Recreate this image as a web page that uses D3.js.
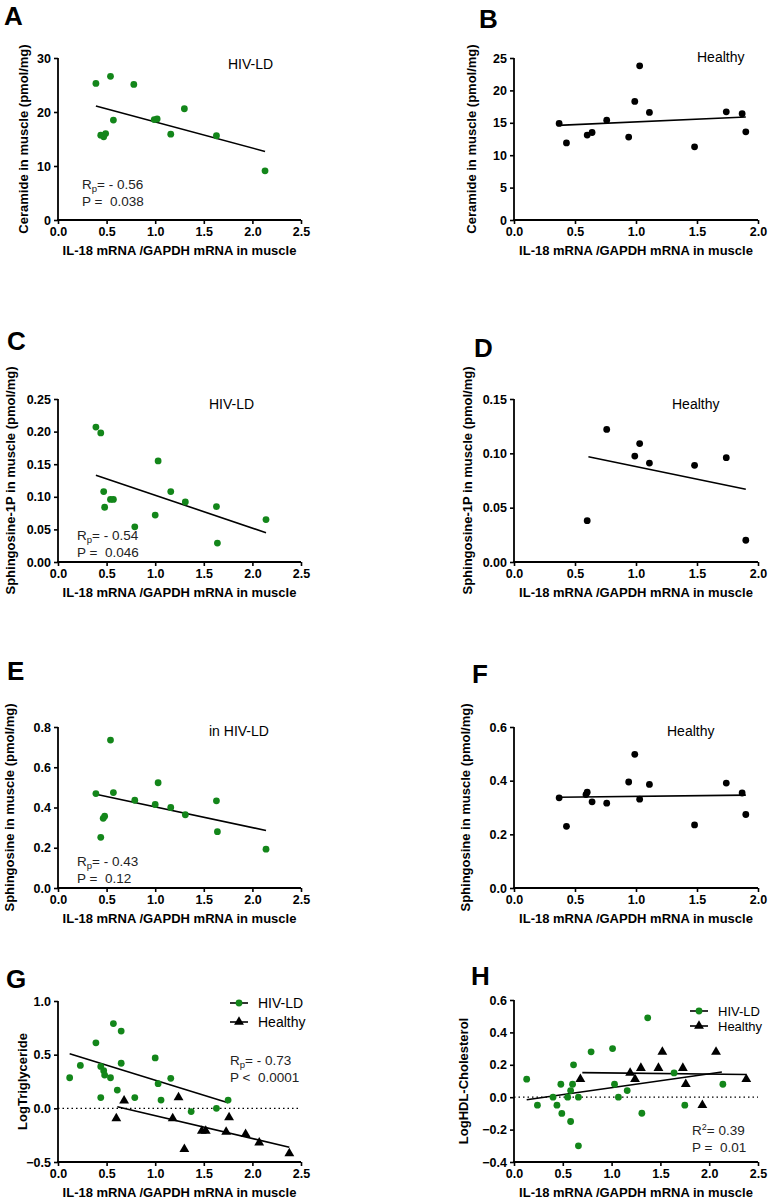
<!DOCTYPE html>
<html><head><meta charset="utf-8">
<script src="https://cdn.jsdelivr.net/npm/d3@7"></script>
<style>body{margin:0;background:#fff}svg{display:block}text{font-family:"Liberation Sans",Arial,sans-serif}</style>
</head><body>
<svg id="chart" width="768" height="1200"></svg>
<script>
// ---------- DATA ----------
const xTicksLong = [0, 0.5, 1.0, 1.5, 2.0, 2.5];
const xTicksShort = [0, 0.5, 1.0, 1.5, 2.0];

// A: Ceramide, HIV-LD
const aX = [0.39, 0.54, 0.78, 0.57, 0.44, 0.47, 0.49, 0.99, 1.02, 1.30, 1.16, 1.63, 2.13];
const aY = [25.3, 26.6, 25.1, 18.5, 15.7, 15.4, 16.0, 18.6, 18.7, 20.6, 15.9, 15.6, 9.1];
const aFit = [[0.39, 21.1], [2.13, 12.7]];
const aTicks = [0, 10, 20, 30];

// B: Ceramide, Healthy
const bX = [0.37, 0.43, 0.60, 0.64, 0.76, 0.94, 0.99, 1.03, 1.11, 1.48, 1.74, 1.87, 1.90];
const bY = [14.9, 11.9, 13.1, 13.5, 15.4, 12.8, 18.3, 23.8, 16.6, 11.3, 16.7, 16.4, 13.6];
const bFit = [[0.36, 14.6], [1.90, 15.9]];
const bTicks = [0, 5, 10, 15, 20, 25];

// C: Sphingosine-1P, HIV-LD
const cX = [0.39, 0.44, 0.47, 0.48, 0.54, 0.57, 0.79, 1.00, 1.03, 1.16, 1.31, 1.63, 1.64, 2.14];
const cY = [0.207, 0.198, 0.108, 0.084, 0.096, 0.096, 0.054, 0.072, 0.155, 0.108, 0.092, 0.085, 0.029, 0.065];
const cFit = [[0.39, 0.133], [2.14, 0.045]];
const cTicks = [0, 0.05, 0.10, 0.15, 0.20, 0.25];

// D: Sphingosine-1P, Healthy
const dX = [0.60, 0.76, 0.99, 1.03, 1.11, 1.48, 1.74, 1.90];
const dY = [0.038, 0.122, 0.0975, 0.109, 0.091, 0.089, 0.096, 0.020];
const dFit = [[0.61, 0.0968], [1.90, 0.067]];
const dTicks = [0, 0.05, 0.10, 0.15];

// E: Sphingosine, HIV-LD
const eX = [0.39, 0.44, 0.465, 0.48, 0.57, 0.54, 0.79, 1.00, 1.03, 1.16, 1.31, 1.63, 1.64, 2.14];
const eY = [0.469, 0.252, 0.346, 0.357, 0.474, 0.735, 0.436, 0.415, 0.523, 0.400, 0.364, 0.433, 0.280, 0.193];
const eFit = [[0.39, 0.466], [2.14, 0.286]];
const eTicks = [0, 0.2, 0.4, 0.6, 0.8];

// F: Sphingosine, Healthy
const fX = [0.37, 0.43, 0.59, 0.60, 0.64, 0.76, 0.94, 0.99, 1.03, 1.11, 1.48, 1.74, 1.87, 1.90];
const fY = [0.336, 0.230, 0.348, 0.357, 0.321, 0.316, 0.395, 0.498, 0.331, 0.386, 0.235, 0.391, 0.354, 0.274];
const fFit = [[0.37, 0.338], [1.90, 0.346]];
const fTicks = [0, 0.2, 0.4, 0.6];

// G: LogTriglyceride
const gHivX = [0.12, 0.23, 0.39, 0.44, 0.44, 0.47, 0.48, 0.54, 0.57, 0.61, 0.65, 0.65, 0.79, 1.00, 1.03, 1.06, 1.16, 1.37, 1.63, 1.75];
const gHivY = [0.285, 0.40, 0.61, 0.39, 0.10, 0.35, 0.31, 0.285, 0.79, 0.17, 0.72, 0.42, 0.10, 0.47, 0.23, 0.077, 0.28, -0.03, 0.0, 0.077];
const gHeaX = [0.60, 0.68, 1.24, 1.18, 1.30, 1.48, 1.52, 1.73, 1.76, 1.93, 2.07, 2.38];
const gHeaY = [-0.093, 0.071, 0.102, -0.093, -0.38, -0.21, -0.21, -0.22, -0.084, -0.24, -0.32, -0.42];
const gHivFit = [[0.12, 0.508], [1.75, 0.053]];
const gHeaFit = [[0.61, 0.015], [2.38, -0.362]];
const gTicks = [-0.5, 0.0, 0.5, 1.0];

// H: LogHDL-Cholesterol
const hHivX = [0.13, 0.24, 0.40, 0.44, 0.48, 0.49, 0.55, 0.58, 0.58, 0.60, 0.61, 0.66, 0.66, 0.79, 1.01, 1.03, 1.07, 1.16, 1.31, 1.37, 1.64, 1.75, 2.14];
const hHivY = [0.111, -0.049, 0.0, -0.049, 0.08, -0.10, 0.0, 0.041, -0.15, 0.08, 0.20, 0.0, -0.30, 0.28, 0.30, 0.08, 0.0, 0.041, -0.099, 0.49, 0.15, -0.049, 0.08];
const hHeaX = [0.68, 1.19, 1.24, 1.30, 1.48, 1.52, 1.73, 1.76, 1.93, 2.07, 2.38];
const hHeaY = [0.111, 0.15, 0.111, 0.18, 0.18, 0.28, 0.18, 0.08, -0.049, 0.28, 0.111];
const hHivFit = [[0.13, -0.016], [2.13, 0.156]];
const hHeaFit = [[0.70, 0.152], [2.38, 0.140]];
const hTicks = [-0.4, -0.2, 0.0, 0.2, 0.4, 0.6];

const xLabel = "IL-18 mRNA /GAPDH mRNA in muscle";
const GREEN = "#13861a";

// ---------- DRAW ----------
const svg = d3.select("#chart");
const zip = (xs, ys) => xs.map((x, i) => [x, ys[i]]);

function panel(o) {
  const g = svg.append("g");
  const x = d3.scaleLinear().domain(o.xDomain).range([o.left, o.left + o.width]);
  const y = d3.scaleLinear().domain(o.yDomain).range([o.top + o.height, o.top]);

  g.append("text").attr("x", o.letterX).attr("y", o.letterY).text(o.letter)
    .attr("font-size", 26).attr("font-weight", "bold");

  if (o.zeroLine) {
    g.append("line").attr("x1", x(o.xDomain[0])).attr("x2", x(o.xDomain[1]))
      .attr("y1", y(0)).attr("y2", y(0)).attr("stroke", "#000").attr("stroke-width", 1.2)
      .attr("stroke-dasharray", "1.5,3");
  }

  const xa = g.append("g").attr("transform", `translate(0,${o.top + o.height})`)
    .call(d3.axisBottom(x).tickValues(o.xTicks).tickFormat(d3.format(".1f")).tickSize(4).tickPadding(3));
  const ya = g.append("g").attr("transform", `translate(${o.left},0)`)
    .call(d3.axisLeft(y).tickValues(o.yTicks).tickFormat(o.yFmt).tickSize(4).tickPadding(3));
  [xa, ya].forEach(a => {
    a.select(".domain").attr("stroke-width", 1.8);
    a.selectAll(".tick line").attr("stroke-width", 1.6);
    a.selectAll("text").attr("font-size", 12.5).attr("font-weight", "bold")
      .attr("font-family", '"Liberation Sans", Arial, sans-serif').attr("fill", "#000");
  });
  xa.select(".domain").attr("d", `M${x(o.xDomain[0]) - 0.9},0H${x(o.xDomain[1])}`);
  ya.select(".domain").attr("d", `M0,${y(o.yDomain[0]) + 0.9}V${y(o.yDomain[1])}`);

  g.append("text").attr("x", o.left + o.width / 2).attr("y", o.top + o.height + 35)
    .attr("text-anchor", "middle").attr("font-size", 13).attr("font-weight", "bold").text(xLabel);
  g.append("text").attr("transform", `translate(${o.yLabelX},${o.top + o.height / 2}) rotate(-90)`)
    .attr("text-anchor", "middle").attr("font-size", 13).attr("font-weight", "bold").text(o.yLabel);

  const line = d3.line().x(d => x(d[0])).y(d => y(d[1]));
  o.series.forEach(s => {
    g.append("path").attr("d", line(s.fit)).attr("stroke", "#000").attr("stroke-width", 1.6).attr("fill", "none");
  });
  o.series.forEach(s => {
    const pts = zip(s.xs, s.ys);
    if (s.shape === "tri") {
      g.selectAll(null).data(pts).enter().append("path")
        .attr("d", d3.symbol().type(d3.symbolTriangle).size(42))
        .attr("transform", d => `translate(${x(d[0])},${y(d[1])})`).attr("fill", s.color);
    } else {
      g.selectAll(null).data(pts).enter().append("circle")
        .attr("cx", d => x(d[0])).attr("cy", d => y(d[1])).attr("r", 3.4).attr("fill", s.color);
    }
  });

  if (o.group) {
    g.append("text").attr("x", o.group.x).attr("y", o.group.y).attr("font-size", 14).text(o.group.text);
  }
  if (o.stats) {
    const t1 = g.append("text").attr("x", o.stats.x).attr("y", o.stats.y).attr("font-size", 13.5).attr("fill", "#222");
    if (o.stats.sq) {
      t1.append("tspan").text("R");
      t1.append("tspan").attr("font-size", 9).attr("dy", -5).text("2");
      t1.append("tspan").attr("dy", 5).text("= " + o.stats.r);
    } else {
      t1.append("tspan").text("R");
      t1.append("tspan").attr("font-size", 9.5).attr("dy", 3).text("p");
      t1.append("tspan").attr("dy", -3).text("= " + o.stats.r);
    }
    g.append("text").attr("x", o.stats.x).attr("y", o.stats.y + 17).attr("font-size", 13.5).attr("fill", "#222")
      .style("white-space", "pre").text(o.stats.p);
  }
  if (o.legend) {
    const L = o.legend;
    [[ "HIV-LD", GREEN, "circle", L.y1 ], [ "Healthy", "#000", "tri", L.y2 ]].forEach(([lab, col, sh, yy]) => {
      g.append("line").attr("x1", L.x).attr("x2", L.x + 18).attr("y1", yy - 5).attr("y2", yy - 5)
        .attr("stroke", "#000").attr("stroke-width", 1.6);
      if (sh === "circle") g.append("circle").attr("cx", L.x + 9).attr("cy", yy - 5).attr("r", 3.4).attr("fill", col);
      else g.append("path").attr("d", d3.symbol().type(d3.symbolTriangle).size(42)).attr("transform", `translate(${L.x + 9},${yy - 5})`).attr("fill", col);
      g.append("text").attr("x", L.x + 28).attr("y", yy).attr("font-size", L.fs || 14).text(lab);
    });
  }
}

const f0 = d3.format("d"), f1 = d3.format(".1f"), f2 = d3.format(".2f");
const LEFT = 58, RIGHT = 514;

panel({letter: "A", letterX: 4, letterY: 25, left: LEFT, top: 58, width: 243, height: 162,
  xDomain: [0, 2.5], xTicks: xTicksLong, yDomain: [0, 30], yTicks: aTicks, yFmt: f0,
  yLabel: "Ceramide in muscle (pmol/mg)", yLabelX: 28,
  series: [{xs: aX, ys: aY, fit: aFit, color: GREEN}],
  group: {x: 228, y: 69, text: "HIV-LD"}, stats: {x: 82, y: 189, r: "- 0.56", p: "P =  0.038"}});

panel({letter: "B", letterX: 479, letterY: 28, left: RIGHT, top: 58, width: 244, height: 162,
  xDomain: [0, 2.0], xTicks: xTicksShort, yDomain: [0, 25], yTicks: bTicks, yFmt: f0,
  yLabel: "Ceramide in muscle (pmol/mg)", yLabelX: 476,
  series: [{xs: bX, ys: bY, fit: bFit, color: "#000"}],
  group: {x: 697, y: 62, text: "Healthy"}});

panel({letter: "C", letterX: 7, letterY: 350, left: LEFT, top: 399, width: 243, height: 163,
  xDomain: [0, 2.5], xTicks: xTicksLong, yDomain: [0, 0.25], yTicks: cTicks, yFmt: f2,
  yLabel: "Sphingosine-1P in  muscle (pmol/mg)", yLabelX: 15,
  series: [{xs: cX, ys: cY, fit: cFit, color: GREEN}],
  group: {x: 209, y: 409, text: "HIV-LD"}, stats: {x: 77, y: 540, r: "- 0.54", p: "P =  0.046"}});

panel({letter: "D", letterX: 474, letterY: 357, left: RIGHT, top: 399, width: 244, height: 163,
  xDomain: [0, 2.0], xTicks: xTicksShort, yDomain: [0, 0.15], yTicks: dTicks, yFmt: f2,
  yLabel: "Sphingosine-1P in  muscle (pmol/mg)", yLabelX: 472,
  series: [{xs: dX, ys: dY, fit: dFit, color: "#000"}],
  group: {x: 672, y: 409, text: "Healthy"}});

panel({letter: "E", letterX: 7, letterY: 680, left: LEFT, top: 727, width: 243, height: 161,
  xDomain: [0, 2.5], xTicks: xTicksLong, yDomain: [0, 0.8], yTicks: eTicks, yFmt: f1,
  yLabel: "Sphingosine in  muscle (pmol/mg)", yLabelX: 14,
  series: [{xs: eX, ys: eY, fit: eFit, color: GREEN}],
  group: {x: 209, y: 736, text: "in HIV-LD"}, stats: {x: 77, y: 866, r: "- 0.43", p: "P =  0.12"}});

panel({letter: "F", letterX: 472, letterY: 683, left: RIGHT, top: 727, width: 244, height: 161,
  xDomain: [0, 2.0], xTicks: xTicksShort, yDomain: [0, 0.6], yTicks: fTicks, yFmt: f1,
  yLabel: "Sphingosine in  muscle (pmol/mg)", yLabelX: 470,
  series: [{xs: fX, ys: fY, fit: fFit, color: "#000"}],
  group: {x: 667, y: 736, text: "Healthy"}});

panel({letter: "G", letterX: 6, letterY: 988, left: LEFT, top: 1001, width: 243, height: 161,
  xDomain: [0, 2.5], xTicks: xTicksLong, yDomain: [-0.5, 1.0], yTicks: gTicks, yFmt: f1, zeroLine: true,
  yLabel: "LogTriglyceride", yLabelX: 27,
  series: [{xs: gHivX, ys: gHivY, fit: gHivFit, color: GREEN}, {xs: gHeaX, ys: gHeaY, fit: gHeaFit, color: "#000", shape: "tri"}],
  legend: {x: 230, y1: 1008, y2: 1027}, stats: {x: 230, y: 1065, r: "- 0.73", p: "P <  0.0001"}});

panel({letter: "H", letterX: 471, letterY: 985, left: RIGHT, top: 1000, width: 244, height: 162,
  xDomain: [0, 2.5], xTicks: xTicksLong, yDomain: [-0.4, 0.6], yTicks: hTicks, yFmt: f1, zeroLine: true,
  yLabel: "LogHDL-Cholesterol", yLabelX: 468,
  series: [{xs: hHivX, ys: hHivY, fit: hHivFit, color: GREEN}, {xs: hHeaX, ys: hHeaY, fit: hHeaFit, color: "#000", shape: "tri"}],
  legend: {x: 690, y1: 1016, y2: 1031, fs: 13}, stats: {x: 692, y: 1135, sq: true, r: "0.39", p: "P =  0.01"}});
</script>
</body></html>
